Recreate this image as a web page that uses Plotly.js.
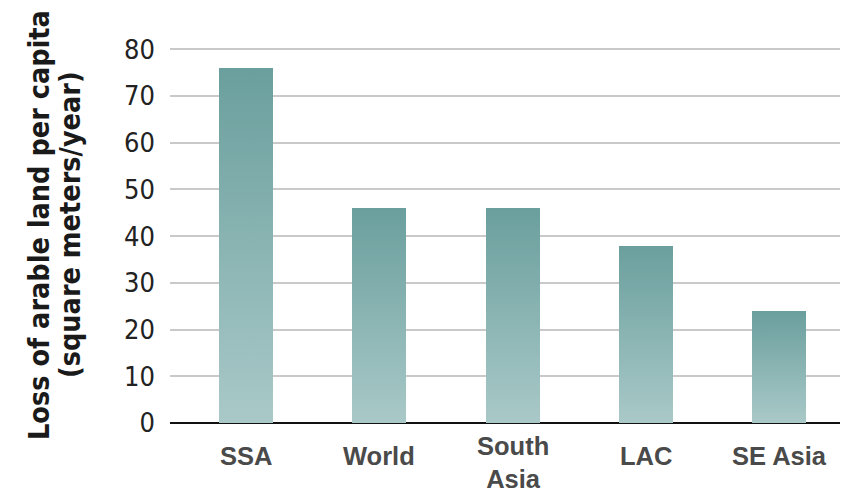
<!DOCTYPE html>
<html>
<head>
<meta charset="utf-8">
<script src="https://cdn.plot.ly/plotly-3.0.1.min.js"></script>
<style>
html,body{margin:0;padding:0;background:#fff;}
#chart{width:846px;height:497px;}
</style>
</head>
<body>
<div id="chart"></div>
<script>
const categories = ["SSA", "World", "South<br>Asia", "LAC", "SE Asia"];
const lossValues = [76, 46, 46, 38, 24];
const yTickValues = [0, 10, 20, 30, 40, 50, 60, 70, 80];
const yTitleLines = ["Loss of arable land per capita", "(square meters/year)"];

const idx = categories.map((_, i) => i);

const trace = {
  type: "bar",
  x: idx,
  y: lossValues,
  width: 0.405,
  marker: {color: "#8ab6b4", line: {width: 0}},
  hoverinfo: "skip"
};

const labelAnnotations = categories.map((c, i) => {
  const lines = c.split("<br>").length;
  return {
    x: i, xref: "x", y: 0, yref: "paper",
    yanchor: "top", xanchor: "center",
    text: c, showarrow: false,
    yshift: -18 + (lines - 1) * 10,
    borderpad: 0,
    font: {family: "Liberation Sans, Arial, sans-serif", size: 25.5, color: "#4a4a4a", weight: "bold"}
  };
});

const titleFont = {family: "DejaVu Sans Condensed, Liberation Sans Narrow, sans-serif", size: 28.5, color: "#1a1a1a", weight: "bold"};
const titleAnnotations = yTitleLines.map((t, i) => ({
  x: 0, xref: "paper", y: 0.5, yref: "paper",
  xanchor: "center", yanchor: "middle",
  xshift: i === 0 ? -131 : -100, yshift: 10,
  textangle: -90, text: t, showarrow: false,
  font: titleFont
}));

const layout = {
  width: 846, height: 497,
  margin: {l: 170, r: 6, t: 47, b: 74},
  paper_bgcolor: "#fff", plot_bgcolor: "#fff",
  showlegend: false,
  bargap: 0,
  xaxis: {
    range: [-0.57, 4.455],
    showticklabels: false, showgrid: false, zeroline: false, ticks: "",
    fixedrange: true
  },
  yaxis: {
    range: [0, 80.5],
    tickvals: yTickValues,
    ticktext: yTickValues.map(String),
    showgrid: true, gridcolor: "#c9c9c9", gridwidth: 2,
    zeroline: true, zerolinecolor: "#111", zerolinewidth: 2.5,
    ticks: "", ticklabelstandoff: 14,
    tickfont: {family: "DejaVu Sans Condensed, Liberation Sans Narrow, sans-serif", size: 27, color: "#222"},
    fixedrange: true
  },
  annotations: labelAnnotations.concat(titleAnnotations)
};

Plotly.newPlot("chart", [trace], layout, {displayModeBar: false, staticPlot: true}).then(gd => {
  const svg = gd.querySelector(".main-svg");
  const ns = "http://www.w3.org/2000/svg";
  let defs = svg.querySelector("defs");
  if (!defs) { defs = document.createElementNS(ns, "defs"); svg.insertBefore(defs, svg.firstChild); }
  const grad = document.createElementNS(ns, "linearGradient");
  grad.setAttribute("id", "barGrad");
  grad.setAttribute("x1", "0"); grad.setAttribute("y1", "0");
  grad.setAttribute("x2", "0"); grad.setAttribute("y2", "1");
  [["0", "#6a9f9d"], ["1", "#a9c9c8"]].forEach(([o, c]) => {
    const s = document.createElementNS(ns, "stop");
    s.setAttribute("offset", o); s.setAttribute("stop-color", c);
    grad.appendChild(s);
  });
  defs.appendChild(grad);
  gd.querySelectorAll(".bars .point path").forEach(p => { p.style.fill = "url(#barGrad)"; });
});
</script>
</body>
</html>
